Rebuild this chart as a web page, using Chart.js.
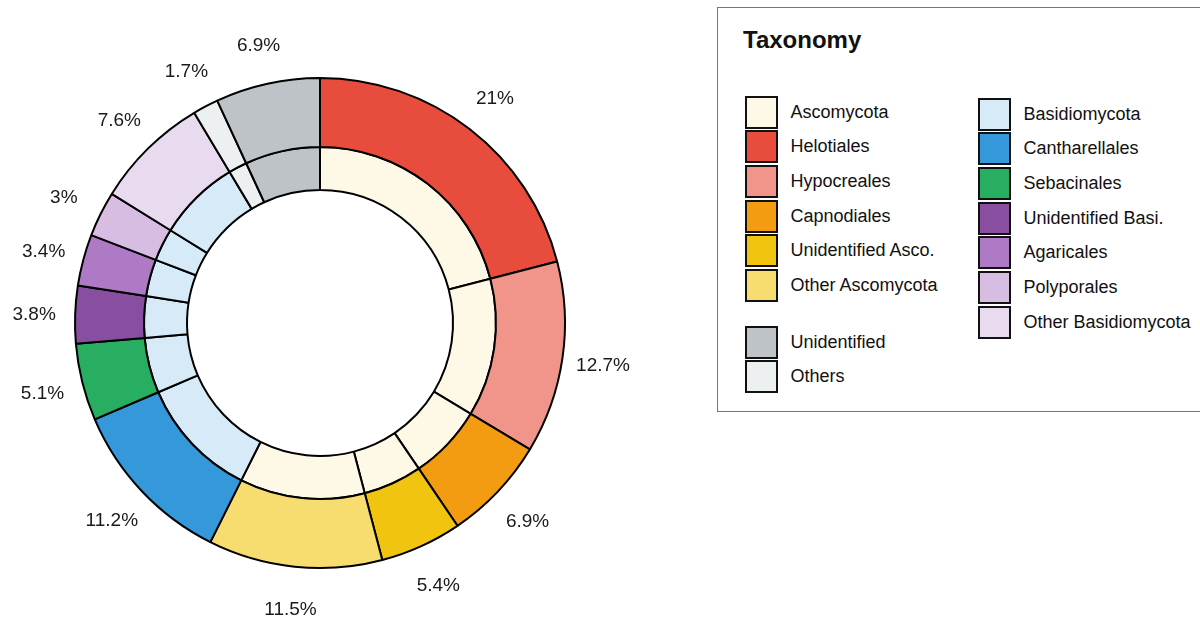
<!DOCTYPE html>
<html>
<head>
<meta charset="utf-8">
<script src="https://cdn.jsdelivr.net/npm/chart.js@4"></script>
<style>
  html, body { margin: 0; padding: 0; background: #fff; }
  #wrap { position: relative; width: 1200px; height: 618px; overflow: hidden; font-family: "Liberation Sans", Arial, Helvetica, sans-serif; }
  #chart { position: absolute; left: 0; top: 0; }
  #legend { position: absolute; left: 717px; top: 7px; width: 520px; height: 405px; border: 1.5px solid #777; box-sizing: border-box; background: #fff; }
  #legend .title { position: absolute; left: 25px; top: 18px; font-weight: bold; font-size: 24px; color: #111; }
  #legend .item { position: absolute; height: 33px; font-size: 18px; color: #111; }
  #legend .sw { position: absolute; left: 0; top: 0; width: 33px; height: 33px; box-sizing: border-box; border: 2.5px solid #111; }
  #legend .lbl { position: absolute; top: 0; line-height: 33px; white-space: nowrap; }
</style>
</head>
<body>
<div id="wrap">
  <canvas id="chart" width="1200" height="618"></canvas>
  <div id="legend"><div class="title">Taxonomy</div></div>
</div>
<script>
// Orders (outer ring), clockwise from 12 o'clock
const orders = ['Helotiales', 'Hypocreales', 'Capnodiales', 'Unidentified Asco.', 'Other Ascomycota',
  'Cantharellales', 'Sebacinales', 'Unidentified Basi.', 'Agaricales', 'Polyporales', 'Other Basidiomycota',
  'Others', 'Unidentified'];
const orderShares = [21, 12.7, 6.9, 5.4, 11.5, 11.2, 5.1, 3.8, 3.4, 3, 7.6, 1.7, 6.9];
const orderColors = ['#E74C3C', '#F1948A', '#F39C12', '#F1C40F', '#F7DC6F',
  '#3498DB', '#27AE60', '#884EA0', '#AF7AC5', '#D7BDE2', '#E8DAEF',
  '#ECF0F1', '#BDC3C7'];
// Phylum of each order (inner ring)
const orderPhylum = ['Ascomycota', 'Ascomycota', 'Ascomycota', 'Ascomycota', 'Ascomycota',
  'Basidiomycota', 'Basidiomycota', 'Basidiomycota', 'Basidiomycota', 'Basidiomycota', 'Basidiomycota',
  'Others', 'Unidentified'];
const phylumColors = { 'Ascomycota': '#FEF9E7', 'Basidiomycota': '#D6EAF8', 'Unidentified': '#BDC3C7', 'Others': '#ECF0F1' };

// Legend layout
const legendCol1 = ['Ascomycota', 'Helotiales', 'Hypocreales', 'Capnodiales', 'Unidentified Asco.', 'Other Ascomycota'];
const legendCol1b = ['Unidentified', 'Others'];
const legendCol2 = ['Basidiomycota', 'Cantharellales', 'Sebacinales', 'Unidentified Basi.', 'Agaricales', 'Polyporales', 'Other Basidiomycota'];

const OUTER_R = 245, INNER_R = 133, LABEL_R = 286, LABEL_DY = 2;

const shareLabels = {
  id: 'shareLabels',
  afterDatasetsDraw(chart) {
    const ctx = chart.ctx;
    const meta = chart.getDatasetMeta(0);
    ctx.save();
    ctx.font = '19px "Liberation Sans", Arial, sans-serif';
    ctx.fillStyle = '#1a1a1a';
    ctx.textAlign = 'center';
    ctx.textBaseline = 'middle';
    meta.data.forEach((arc, i) => {
      const mid = (arc.startAngle + arc.endAngle) / 2;
      const x = arc.x + Math.cos(mid) * LABEL_R;
      const y = arc.y + Math.sin(mid) * LABEL_R + LABEL_DY;
      ctx.fillText(orderShares[i] + '%', x, y);
    });
    ctx.restore();
  }
};

new Chart(document.getElementById('chart'), {
  type: 'doughnut',
  data: {
    labels: orders,
    datasets: [
      {
        label: 'Order',
        data: orderShares,
        backgroundColor: orderColors,
        borderColor: '#000',
        borderWidth: 2,
        weight: 69
      },
      {
        label: 'Phylum',
        data: orderShares,
        backgroundColor: orderPhylum.map(p => phylumColors[p]),
        borderColor: '#000',
        borderWidth: 2,
        weight: 43
      }
    ]
  },
  options: {
    responsive: false,
    animation: false,
    devicePixelRatio: 1,
    radius: OUTER_R,
    cutout: (INNER_R / OUTER_R * 100) + '%',
    rotation: 0,
    layout: { padding: { left: 0, right: 560, top: 28, bottom: 0 } },
    plugins: { legend: { display: false }, tooltip: { enabled: false } }
  },
  plugins: [shareLabels]
});

// Legend
const legend = document.getElementById('legend');
function addItem(name, left, top) {
  const it = document.createElement('div');
  it.className = 'item';
  it.style.left = left + 'px';
  it.style.top = top + 'px';
  const sw = document.createElement('div');
  sw.className = 'sw';
  sw.style.background = (name === 'Ascomycota' || name === 'Basidiomycota') ? phylumColors[name] : orderColors[orders.indexOf(name)];
  const lb = document.createElement('div');
  lb.className = 'lbl';
  lb.style.left = '46px';
  lb.textContent = name;
  it.appendChild(sw);
  it.appendChild(lb);
  legend.appendChild(it);
}
const STEP = 34.7;
legendCol1.forEach((n, i) => addItem(n, 26.5, 87.5 + i * STEP));
legendCol1b.forEach((n, i) => addItem(n, 26.5, 317.5 + i * STEP));
legendCol2.forEach((n, i) => addItem(n, 259.5, 89.5 + i * STEP));
</script>
</body>
</html>
